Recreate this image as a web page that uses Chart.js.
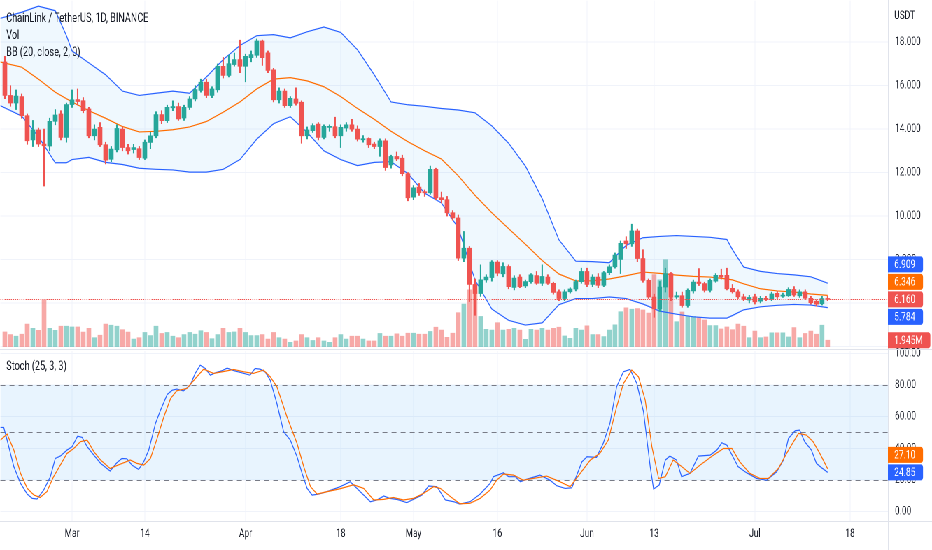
<!DOCTYPE html>
<html>
<head>
<meta charset="utf-8">
<script src="https://cdn.jsdelivr.net/npm/chart.js@4.4.1/dist/chart.umd.min.js"></script>
<style>
  html, body { margin: 0; padding: 0; background: #fff; overflow: hidden; }
  #frame { position: relative; width: 932px; height: 550px; overflow: hidden; }
  /* the chart is drawn wide and squeezed, like the screenshot it copies */
  #wide { position: absolute; left: 0; top: 0; width: 1332px; height: 550px; transform: scaleX(0.6997); transform-origin: 0 0; }
  .pane { position: absolute; left: 0; top: 0; width: 1332px; height: 550px; }
</style>
</head>
<body>
<div id="frame"><div id="wide">
  <div class="pane"><canvas id="main"></canvas></div>
  <div class="pane"><canvas id="stoch"></canvas></div>
</div></div>
<script>
// LINK/USDT 1D, Binance. x = days counted from 1 Mar 2022, first candle is 17 Feb
const firstDay = -12;

const opens = [
  17.09, 15.55, 15.20, 15.50, 14.62, 13.50, 13.96, 13.31, 13.22, 14.36,
  14.70, 13.62, 15.13, 15.36, 15.31, 14.93, 13.69, 14.08, 13.28, 12.61,
  13.05, 14.00, 13.15, 13.06, 13.10, 12.66, 13.39, 13.69, 14.67, 14.39,
  14.98, 15.04, 14.51, 15.00, 15.39, 15.78, 16.16, 15.55, 15.81, 16.89,
  16.47, 16.97, 17.20, 16.89, 17.29, 17.40, 18.06, 17.51, 16.73, 15.35,
  15.75, 15.08, 15.39, 15.24, 13.69, 13.93, 14.23, 13.62, 14.08, 14.11,
  13.69, 14.05, 14.20, 14.00, 13.51, 13.57, 13.31, 13.20, 13.46, 12.35,
  12.74, 12.66, 11.95, 10.87, 11.33, 11.12, 11.07, 12.15, 10.84, 10.75,
  10.15, 9.91, 8.06, 8.52, 6.85, 6.43, 7.06, 7.17, 7.88, 7.34,
  7.68, 6.71, 7.19, 6.78, 6.98, 7.26, 6.90, 7.19, 6.90, 6.51,
  6.20, 6.51, 6.64, 6.98, 7.45, 6.85, 7.19, 6.81, 7.39, 7.66,
  8.00, 8.85, 8.72, 9.31, 8.04, 7.04, 6.27, 5.73, 6.73, 7.35,
  6.27, 6.33, 5.88, 6.55, 6.96, 6.89, 6.58, 7.00, 7.27, 7.27,
  6.67, 6.51, 6.28, 6.13, 6.28, 6.08, 6.21, 6.16, 6.44, 6.31,
  6.33, 6.62, 6.33, 6.51, 6.21, 6.08, 5.96, 6.20
];
const highs = [
  17.35, 16.00, 15.80, 15.62, 14.70, 14.40, 14.05, 14.00, 14.50, 14.90,
  14.85, 15.20, 15.80, 15.85, 15.45, 15.00, 14.20, 14.30, 13.40, 13.20,
  14.20, 14.10, 13.30, 13.30, 13.20, 13.50, 13.85, 14.80, 14.85, 15.10,
  15.30, 15.20, 15.10, 15.50, 16.00, 16.30, 16.30, 15.95, 17.00, 17.30,
  17.40, 17.50, 18.09, 17.45, 17.60, 18.15, 18.10, 17.60, 16.80, 15.90,
  15.85, 15.50, 15.90, 15.30, 14.10, 14.25, 14.30, 14.20, 14.20, 14.55,
  14.20, 14.30, 14.45, 14.15, 13.70, 13.60, 13.40, 13.55, 13.55, 12.80,
  12.95, 12.80, 12.00, 11.40, 11.50, 11.20, 12.30, 12.20, 11.10, 10.90,
  10.25, 10.05, 9.29, 8.60, 7.10, 7.75, 7.30, 7.95, 7.95, 7.85,
  7.75, 7.25, 7.30, 7.05, 7.35, 7.45, 7.75, 7.30, 6.95, 6.60,
  6.60, 6.70, 7.05, 7.60, 7.60, 7.30, 7.35, 7.45, 7.75, 8.30,
  8.85, 9.05, 9.62, 9.40, 8.45, 7.10, 6.40, 6.99, 7.60, 7.40,
  6.50, 6.50, 6.65, 7.05, 7.58, 6.95, 7.10, 7.35, 7.55, 7.60,
  6.85, 6.60, 6.40, 6.35, 6.40, 6.30, 6.30, 6.50, 6.55, 6.45,
  6.70, 6.75, 6.60, 6.60, 6.30, 6.15, 6.30, 6.30
];
const lows = [
  15.40, 15.05, 14.90, 14.50, 13.30, 13.20, 13.20, 11.38, 13.00, 14.20,
  13.50, 13.40, 15.00, 15.10, 14.75, 13.60, 13.50, 13.20, 12.40, 12.50,
  12.95, 13.00, 12.85, 12.90, 12.60, 12.60, 13.10, 13.60, 14.25, 14.30,
  14.85, 14.40, 14.40, 14.90, 15.30, 15.70, 15.45, 15.45, 15.70, 16.35,
  16.40, 16.90, 16.60, 16.18, 17.10, 17.30, 16.93, 16.60, 15.25, 15.20,
  15.00, 15.00, 15.10, 13.35, 13.55, 13.85, 13.50, 13.55, 13.90, 13.60,
  13.15, 13.90, 13.90, 13.45, 13.40, 13.15, 13.10, 12.75, 12.10, 12.20,
  12.55, 11.85, 10.70, 10.75, 10.95, 10.90, 11.00, 10.75, 10.60, 10.00,
  9.80, 7.95, 7.90, 6.06, 5.43, 6.30, 6.95, 7.00, 7.25, 7.20,
  6.65, 6.60, 6.70, 6.70, 6.90, 6.85, 6.80, 6.85, 6.40, 6.10,
  6.10, 6.45, 6.55, 6.90, 6.75, 6.75, 6.70, 6.75, 7.30, 7.60,
  7.35, 8.50, 8.60, 7.90, 6.95, 6.20, 5.34, 5.60, 6.50, 6.10,
  6.20, 5.80, 5.80, 6.45, 6.80, 6.50, 6.50, 6.95, 7.10, 6.60,
  6.45, 6.20, 6.10, 6.00, 5.95, 6.00, 6.10, 6.10, 6.20, 6.25,
  6.30, 6.30, 6.25, 6.15, 5.95, 5.85, 5.90, 6.10
];
const closes = [
  15.55, 15.20, 15.52, 14.62, 13.46, 13.96, 13.31, 13.23, 14.36, 14.65,
  13.62, 15.13, 15.35, 15.27, 14.85, 13.69, 14.00, 13.28, 12.57, 13.08,
  14.03, 13.15, 13.00, 13.15, 12.69, 13.40, 13.69, 14.67, 14.39, 15.00,
  15.04, 14.47, 15.00, 15.39, 15.82, 16.16, 15.55, 15.85, 16.89, 16.47,
  17.01, 17.20, 16.89, 17.35, 17.43, 18.06, 17.29, 16.70, 15.35, 15.75,
  15.08, 15.42, 15.19, 13.69, 13.96, 14.16, 13.62, 14.13, 14.13, 13.69,
  14.08, 14.20, 14.00, 13.54, 13.54, 13.28, 13.20, 13.46, 12.23, 12.74,
  12.63, 11.95, 10.84, 11.30, 11.07, 11.07, 12.15, 10.84, 10.75, 10.15,
  9.91, 8.06, 8.52, 6.85, 6.43, 7.06, 7.19, 7.88, 7.37, 7.68,
  6.75, 7.14, 6.75, 6.98, 7.29, 6.90, 7.22, 6.90, 6.48, 6.20,
  6.51, 6.64, 6.98, 7.45, 6.85, 7.19, 6.81, 7.39, 7.66, 8.20,
  8.74, 8.72, 9.31, 8.04, 7.04, 6.27, 5.73, 6.73, 7.35, 6.27,
  6.33, 5.88, 6.58, 6.96, 6.89, 6.58, 7.04, 7.27, 7.19, 6.65,
  6.51, 6.28, 6.16, 6.25, 6.05, 6.21, 6.16, 6.41, 6.28, 6.36,
  6.62, 6.36, 6.51, 6.21, 6.01, 5.94, 6.20, 6.16
];
// volume, millions of LINK
const volumes = [
  4.35, 3.6, 3.1, 3.7, 6.6, 5.4, 4.8, 13.7, 5.4, 4.8,
  6.0, 6.0, 5.8, 5.8, 4.3, 5.4, 2.7, 3.4, 6.6, 6.3,
  6.0, 5.0, 4.3, 2.3, 2.7, 4.2, 3.3, 6.0, 3.9, 4.2,
  3.1, 2.7, 3.6, 4.2, 3.7, 4.7, 4.2, 2.4, 3.6, 5.4,
  4.2, 4.35, 5.4, 4.2, 3.3, 3.3, 3.6, 2.3, 4.2, 2.7,
  2.3, 1.35, 1.75, 3.6, 2.7, 1.9, 2.7, 1.75, 1.35, 2.7,
  3.6, 2.3, 3.1, 3.1, 2.3, 1.75, 1.75, 3.9, 3.1, 3.1,
  3.8, 3.1, 4.0, 4.0, 3.7, 3.7, 4.5, 5.7, 4.9, 2.8,
  4.0, 9.9, 12.4, 16.5, 16.3, 8.8, 5.1, 4.9, 7.0, 4.9,
  5.1, 5.4, 4.9, 2.2, 5.1, 4.9, 5.4, 4.9, 5.4, 5.7,
  3.2, 2.5, 5.4, 4.9, 6.1, 3.6, 3.6, 3.0, 4.9, 6.4,
  10.2, 11.3, 10.9, 11.1, 10.7, 9.8, 20.9, 19.4, 25.2, 20.9,
  7.3, 10.1, 8.8, 8.8, 8.5, 7.8, 6.2, 6.2, 5.2, 5.8,
  5.0, 6.6, 6.0, 2.7, 4.6, 2.7, 2.9, 4.1, 4.1, 4.1,
  2.9, 5.6, 2.7, 3.9, 4.6, 3.7, 6.3, 1.945
];

// Bollinger Bands (20, close, 2)
const bbDays = [-12.8, -9, -6, -3, -1, 0, 3, 6, 9, 12, 15, 18, 21, 24, 27, 30, 33, 36, 39, 42, 45, 48, 51, 54, 57, 60,
  63, 66, 69, 72, 75, 78, 81, 84, 87, 90, 93, 96, 99, 102, 105, 108, 111, 114, 117, 118, 120, 123, 126, 129, 132, 135];
const bbUpper = [19.10, 19.38, 19.66, 19.45, 18.3, 17.6, 17.05, 16.5, 15.75, 15.55, 15.65, 15.75, 15.65, 16.4, 17.2, 17.85,
  18.3, 18.35, 18.2, 18.48, 18.7, 18.45, 17.65, 16.5, 15.25, 15.12, 15.05, 14.95, 14.88, 14.75, 14.15, 13.35, 12.3, 10.8,
  8.9, 7.92, 7.9, 7.85, 8.65, 9.0, 9.06, 9.1, 9.06, 9.02, 8.92, 8.45, 7.65, 7.45, 7.35, 7.29, 7.2, 6.909];
const bbBasis = [17.09, 16.85, 16.3, 15.7, 15.4, 15.25, 14.85, 14.5, 14.12, 13.87, 13.9, 13.97, 14.1, 14.35, 14.78, 15.25,
  15.85, 16.3, 16.37, 16.22, 15.95, 15.5, 14.95, 14.45, 13.9, 13.42, 13.0, 12.62, 11.85, 10.95, 10.15, 9.42, 8.7, 7.95,
  7.33, 7.01, 7.02, 7.1, 7.25, 7.42, 7.36, 7.28, 7.22, 7.19, 7.1, 7.06, 6.88, 6.65, 6.55, 6.5, 6.41, 6.346];
const bbLower = [15.08, 14.6, 13.65, 12.45, 12.45, 12.6, 12.7, 12.47, 12.37, 12.2, 12.15, 12.12, 12.02, 12.02, 12.15, 12.6,
  13.54, 14.25, 14.57, 13.85, 13.0, 12.6, 12.32, 12.47, 12.5, 11.95, 11.05, 10.6, 9.45, 7.05, 5.72, 5.2, 4.98, 5.08,
  5.92, 6.2, 6.2, 6.27, 6.2, 5.95, 5.62, 5.48, 5.36, 5.3, 5.3, 5.42, 5.68, 5.82, 5.89, 5.93, 5.9, 5.784];

// Stoch (25, 3, 3)
const stochKDays = [-12.8, -12.2, -11.6, -10.4, -9.2, -8.0, -7.1, -6.25, -5.06, -3.87, -3.0, -2.1, -0.9, 0, 1.0, 1.8, 2.7,
  3.9, 5.1, 6.8, 8.0, 8.9, 9.8, 10.7, 11.9, 12.8, 13.7, 14.9, 15.8, 17.0, 17.9, 18.7, 19.9, 21.1, 22.0, 22.9, 23.8, 24.7,
  25.6, 26.8, 27.7, 28.9, 30.1, 31.8, 32.7, 33.6, 34.5, 35.4, 36.6, 37.8, 39.0, 40.2, 41.1, 42.0, 42.9, 44.0, 45.5, 47.9,
  49.7, 51.5, 53.3, 54.5, 55.7, 56.8, 58.0, 59.8, 61.0, 62.5, 63.7, 65.2, 66.7, 68.2, 69.3, 71.1, 72.9, 74.7, 75.3, 77.1,
  78.0, 79.2, 80.1, 81.2, 83.6, 85.4, 86.6, 88.1, 89.3, 91.1, 92.0, 93.7, 94.9, 96.1, 97.3, 98.5, 99.7, 100.9, 102.1,
  103.3, 103.9, 104.9, 106.0, 106.8, 108.0, 108.9, 110.4, 111.9, 114.0, 115.2, 116.1, 117.0, 119.0, 120.5, 122.3, 124.1,
  125.9, 127.1, 128.0, 129.2, 130.0, 130.9, 132.1, 133.0, 133.9, 135];
const stochK = [53.2, 53.2, 45.2, 28.4, 17.9, 11.1, 8.4, 8.0, 13.7, 22.1, 33.6, 35.1, 38.9, 41.0, 47.7, 46.9, 41.0, 35.7,
  30.5, 25.7, 30.9, 33.6, 33.4, 29.4, 26.7, 31.5, 38.9, 55.7, 64.1, 74.0, 76.7, 77.4, 76.3, 79.9, 87.3, 92.5, 90.4, 86.2,
  87.7, 89.0, 90.6, 89.0, 87.9, 86.2, 90.4, 90.0, 88.3, 83.1, 68.3, 50.5, 45.2, 34.7, 24.2, 14.7, 10.5, 11.1, 12.6, 15.8,
  18.9, 12.6, 6.3, 7.4, 9.9, 8.4, 7.8, 5.7, 7.8, 10.5, 16.2, 15.8, 7.4, 6.3, 4.8, 6.3, 11.1, 17.9, 22.1, 24.6, 22.1, 22.1,
  18.9, 20.4, 23.1, 19.9, 16.4, 14.7, 15.1, 31.5, 34.7, 34.3, 43.1, 55.7, 78.9, 88.3, 89.8, 81.0, 63.1, 28.4, 14.3, 16.8,
  32.6, 35.1, 32.6, 22.1, 24.2, 35.1, 35.7, 38.9, 43.5, 42.0, 28.4, 24.6, 21.0, 19.9, 25.2, 32.6, 46.3, 51.1, 51.5, 44.2,
  38.9, 30.5, 27.8, 24.85];
const stochDDays = [-12.8, -11.6, -10.4, -9.2, -8.0, -6.8, -5.7, -4.5, -3.3, -2.1, -0.9, 0.3, 1.5, 2.7, 3.9, 5.1, 6.8, 8.6,
  10.4, 11.6, 12.8, 14.0, 15.2, 16.4, 17.6, 18.7, 20.5, 22.3, 23.5, 25.3, 27.1, 28.9, 30.7, 32.4, 34.2, 35.4, 36.6, 38.4,
  40.2, 41.4, 42.6, 43.8, 45.5, 47.9, 50.3, 52.1, 53.9, 55.7, 57.4, 59.2, 61.0, 62.8, 64.6, 65.8, 67.6, 69.3, 71.1, 72.9,
  74.7, 75.9, 77.1, 78.9, 80.6, 82.4, 84.8, 87.2, 89.0, 90.8, 92.6, 94.3, 95.8, 97.3, 98.5, 100.0, 101.2, 102.4, 103.6,
  104.8, 106.0, 107.4, 108.6, 110.4, 112.2, 114.6, 116.4, 117.9, 119.3, 121.1, 122.9, 124.4, 126.2, 128.0, 129.8, 131.2,
  132.4, 133.6, 135];
const stochD = [45.2, 49.0, 38.9, 24.2, 14.7, 10.5, 9.0, 12.6, 22.1, 29.4, 36.8, 39.9, 44.2, 45.2, 37.9, 32.6, 27.3, 30.0,
  32.6, 30.5, 29.4, 33.6, 46.3, 59.9, 71.5, 76.3, 77.8, 85.2, 90.0, 87.3, 88.5, 89.8, 88.3, 87.3, 89.4, 85.2, 78.9, 59.9,
  43.1, 28.4, 15.8, 11.1, 12.6, 14.5, 17.0, 14.7, 7.4, 7.8, 9.0, 7.4, 8.4, 11.6, 15.8, 14.7, 9.5, 5.0, 5.3, 8.4, 13.7,
  20.0, 23.8, 23.1, 19.9, 21.0, 22.5, 18.9, 15.8, 24.2, 32.6, 36.8, 45.2, 66.2, 80.9, 89.4, 85.2, 70.5, 41.0, 21.0, 22.1,
  32.6, 29.4, 24.2, 29.4, 35.7, 39.9, 39.9, 31.5, 24.2, 21.0, 21.0, 27.3, 38.9, 49.4, 48.4, 44.2, 36.8, 27.1];
const stochLevels = [80, 50, 20];

const tickDays = [0, 13, 31, 48, 61, 76, 92, 104, 122, 139];
const tickLabels = ['Mar', '14', 'Apr', '18', 'May', '16', 'Jun', '13', 'Jul', '18'];

// ---- view ----
const xMin = -12.8, xMax = 145.77;
const axisW = 63;
const GREEN = '#26a69a', RED = '#ef5350', BLUE = '#2962FF', ORANGE = '#FF6D00';
const GRID = '#f0f3fa', BORDER = '#e0e3eb', TEXT = '#131722';

Chart.defaults.font.family = 'Roboto, sans-serif';
Chart.defaults.color = TEXT;

const candleDays = opens.map((o, i) => firstDay + i);
const isUp = closes.map((c, i) => c >= opens[i]);
const candleColors = isUp.map(u => u ? GREEN : RED);
const volColors = isUp.map(u => u ? 'rgba(38,166,154,0.5)' : 'rgba(239,83,80,0.5)');
const last = closes.length - 1;

function pts(xs, ys) { return xs.map((x, i) => ({x: x, y: ys[i]})); }

function xScale(showLabels) {
  return {
    type: 'linear', min: xMin, max: xMax, offset: false,
    grid: {color: GRID, drawTicks: false, offset: false},
    border: {display: false},
    ticks: {display: showLabels, autoSkip: false, maxRotation: 0, padding: 6, font: {size: 12},
      callback: (v, i) => tickLabels[i]},
    afterBuildTicks: s => { s.ticks = tickDays.map(v => ({value: v})); },
    afterFit: s => { s.height = showLabels ? 29 : 0; s.paddingLeft = 0; s.paddingRight = 0; }
  };
}

// value tags on the price axis, pushed apart like TradingView does
function drawTags(ctx, area, tags, anchorIdx) {
  const step = 17.5;
  const anchor = tags[anchorIdx];
  tags.forEach(t => { t.py = t.y; });
  let prev = anchor.py;
  tags.filter(t => t !== anchor && t.y <= anchor.y).sort((a, b) => b.y - a.y)
    .forEach(t => { t.py = Math.min(t.y, prev - step); prev = t.py; });
  prev = anchor.py;
  tags.filter(t => t !== anchor && t.y > anchor.y).sort((a, b) => a.y - b.y)
    .forEach(t => { t.py = Math.max(t.y, prev + step); prev = t.py; });
  ctx.save();
  ctx.font = '12px Roboto, sans-serif';
  ctx.textBaseline = 'middle';
  tags.forEach(t => {
    const w = ctx.measureText(t.text).width + 20;
    ctx.fillStyle = t.color;
    ctx.beginPath();
    ctx.roundRect(area.right, t.py - 8, w, 16, [0, 3, 3, 0]);
    ctx.fill();
    ctx.fillStyle = '#fff';
    ctx.fillText(t.text, area.right + 9, t.py + 0.5);
  });
  ctx.restore();
}

const mainDecor = {
  id: 'mainDecor',
  afterDatasetsDraw(chart) {
    const {ctx, chartArea: a} = chart;
    const py = Math.round(chart.scales.y.getPixelForValue(closes[last])) + 0.5;
    ctx.save();
    ctx.strokeStyle = RED;
    ctx.lineWidth = 1;
    ctx.setLineDash([1.5, 1.5]);
    ctx.beginPath(); ctx.moveTo(a.left, py); ctx.lineTo(a.right, py); ctx.stroke();
    ctx.restore();
  },
  afterDraw(chart) {
    const {ctx, chartArea: a} = chart;
    const y = chart.scales.y, yv = chart.scales.yv;
    ctx.save();
    ctx.strokeStyle = BORDER;
    ctx.lineWidth = 1.4;
    ctx.beginPath(); ctx.moveTo(a.right + 0.7, 0); ctx.lineTo(a.right + 0.7, a.bottom + 3); ctx.stroke();
    ctx.fillStyle = TEXT;
    ctx.font = '13px Roboto, sans-serif';
    ctx.fillText('ChainLink / TetherUS, 1D, BINANCE', 9, 22);
    ctx.fillText('Vol', 9, 39);
    ctx.fillText('BB (20, close, 2, 0)', 9, 56);
    ctx.font = '12px Roboto, sans-serif';
    ctx.fillText('USDT', a.right + 9, 19);
    ctx.restore();
    const n = bbDays.length - 1;
    drawTags(ctx, a, [
      {y: y.getPixelForValue(bbUpper[n]), text: bbUpper[n].toFixed(3), color: BLUE},
      {y: y.getPixelForValue(bbBasis[n]), text: bbBasis[n].toFixed(3), color: ORANGE},
      {y: y.getPixelForValue(closes[last]), text: closes[last].toFixed(3), color: isUp[last] ? GREEN : RED},
      {y: y.getPixelForValue(bbLower[n]), text: bbLower[n].toFixed(3), color: BLUE}
    ], 2);
    drawTags(ctx, a, [
      {y: yv.getPixelForValue(volumes[last]), text: volumes[last].toFixed(3) + 'M', color: isUp[last] ? GREEN : RED}
    ], 0);
  }
};

new Chart(document.getElementById('main'), {
  type: 'bar',
  data: {
    datasets: [
      {type: 'line', label: 'Upper', data: pts(bbDays, bbUpper), borderColor: BLUE, borderWidth: 1.2,
        pointRadius: 0, tension: 0, fill: '+2', backgroundColor: 'rgba(33,150,243,0.07)', order: 3},
      {type: 'line', label: 'Basis', data: pts(bbDays, bbBasis), borderColor: ORANGE, borderWidth: 1.2,
        pointRadius: 0, tension: 0, fill: false, order: 2},
      {type: 'line', label: 'Lower', data: pts(bbDays, bbLower), borderColor: BLUE, borderWidth: 1.2,
        pointRadius: 0, tension: 0, fill: false, order: 3},
      {label: 'Vol', data: pts(candleDays, volumes), yAxisID: 'yv', backgroundColor: volColors,
        barThickness: 6, grouped: false, borderWidth: 0, order: 6},
      {label: 'Wick', data: candleDays.map((d, i) => ({x: d, y: [lows[i], highs[i]]})), backgroundColor: candleColors,
        barThickness: 1.4, grouped: false, borderWidth: 0, order: 1},
      {label: 'Body', data: candleDays.map((d, i) => ({x: d, y: [opens[i], closes[i]]})), backgroundColor: candleColors,
        barThickness: 6, grouped: false, borderWidth: 0, minBarLength: 1, order: 0}
    ]
  },
  options: {
    responsive: true, maintainAspectRatio: false, animation: false, devicePixelRatio: 2,
    layout: {padding: {left: 0, right: 0, top: 0, bottom: 203}},
    plugins: {legend: {display: false}, tooltip: {enabled: false}, filler: {drawTime: 'beforeDatasetsDraw'}},
    scales: {
      x: xScale(false),
      y: {
        position: 'right', min: 3.97, max: 19.916,
        grid: {color: GRID, drawTicks: false}, border: {display: false},
        ticks: {stepSize: 2, includeBounds: false, padding: 10, font: {size: 12}, callback: v => v.toFixed(3)},
        afterFit: s => { s.width = axisW; s.paddingTop = 0; s.paddingBottom = 0; }
      },
      yv: {display: false, min: 0, max: 100}
    }
  },
  plugins: [mainDecor]
});

const stochDecor = {
  id: 'stochDecor',
  beforeDatasetsDraw(chart) {
    const {ctx, chartArea: a} = chart;
    const y = chart.scales.y;
    const top = y.getPixelForValue(stochLevels[0]);
    const bot = y.getPixelForValue(stochLevels[stochLevels.length - 1]);
    ctx.save();
    ctx.fillStyle = 'rgba(33,150,243,0.1)';
    ctx.fillRect(a.left, top, a.right - a.left, bot - top);
    ctx.strokeStyle = '#787B86';
    ctx.lineWidth = 1;
    ctx.setLineDash([7, 6]);
    stochLevels.forEach(v => {
      const p = Math.round(y.getPixelForValue(v)) + 0.5;
      ctx.beginPath(); ctx.moveTo(a.left, p); ctx.lineTo(a.right, p); ctx.stroke();
    });
    ctx.restore();
  },
  afterDraw(chart) {
    const {ctx, chartArea: a, width, height} = chart;
    const y = chart.scales.y;
    ctx.save();
    ctx.strokeStyle = BORDER;
    ctx.lineWidth = 1;
    ctx.beginPath(); ctx.moveTo(0, a.top - 1.5); ctx.lineTo(width, a.top - 1.5); ctx.stroke();
    ctx.beginPath(); ctx.moveTo(0, a.bottom + 0.5); ctx.lineTo(width, a.bottom + 0.5); ctx.stroke();
    ctx.lineWidth = 1.4;
    ctx.beginPath(); ctx.moveTo(a.right + 0.7, a.top - 2); ctx.lineTo(a.right + 0.7, height); ctx.stroke();
    ctx.fillStyle = TEXT;
    ctx.font = '13px Roboto, sans-serif';
    ctx.fillText('Stoch (25, 3, 3)', 9, 370);
    ctx.restore();
    const k = stochK[stochK.length - 1], d = stochD[stochD.length - 1];
    drawTags(ctx, a, [
      {y: y.getPixelForValue(k), text: k.toFixed(2), color: BLUE},
      {y: y.getPixelForValue(d), text: d.toFixed(2), color: ORANGE}
    ], 0);
  }
};

new Chart(document.getElementById('stoch'), {
  type: 'line',
  data: {
    datasets: [
      {label: '%D', data: pts(stochDDays, stochD), borderColor: ORANGE, borderWidth: 1.2, pointRadius: 0, tension: 0, fill: false},
      {label: '%K', data: pts(stochKDays, stochK), borderColor: BLUE, borderWidth: 1.2, pointRadius: 0, tension: 0, fill: false}
    ]
  },
  options: {
    responsive: true, maintainAspectRatio: false, animation: false, devicePixelRatio: 2,
    layout: {padding: {left: 0, right: 0, top: 351, bottom: 0}},
    plugins: {legend: {display: false}, tooltip: {enabled: false}},
    scales: {
      x: xScale(true),
      y: {
        position: 'right', min: -5.87, max: 101.45,
        grid: {color: GRID, drawTicks: false}, border: {display: false},
        ticks: {stepSize: 20, includeBounds: false, padding: 10, font: {size: 12}, callback: v => v.toFixed(2)},
        afterFit: s => { s.width = axisW; s.paddingTop = 0; s.paddingBottom = 0; }
      }
    }
  },
  plugins: [stochDecor]
});
</script>
</body>
</html>
